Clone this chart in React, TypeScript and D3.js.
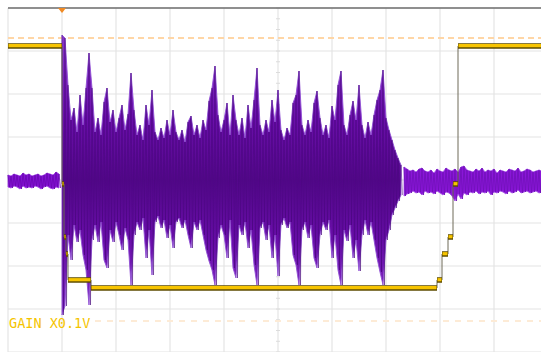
import React from "react";
import * as d3 from "d3";

// time base: trigger at t = 0, 54 units per division; voltage: 43 units per division
const STEP = 3;

// burst envelope (peak-detect pairs), one pair per sample starting at the trigger
const burstTop = [145, 142, 95, 60, 72, 48, 85, 55, 92, 127,
  92, 48, 62, 45, 78, 92, 58, 70, 48, 62,
  75, 50, 66, 107, 70, 45, 55, 40, 75, 55,
  90, 48, 40, 52, 42, 60, 45, 70, 48, 40,
  50, 38, 58, 64, 45, 55, 42, 60, 50, 79,
  92, 114, 65, 48, 60, 77, 45, 85, 60, 45,
  62, 42, 75, 52, 80, 112, 55, 45, 60, 48,
  80, 58, 90, 50, 40, 52, 45, 77, 85, 109,
  55, 45, 60, 48, 77, 89, 62, 45, 55, 42,
  74, 60, 95, 109, 55, 45, 65, 79, 60, 95,
  55, 42, 58, 45, 65, 80, 90, 110, 62, 50,
  40, 30, 22, 15];
const burstBot = [135, 126, 55, 80, 45, 62, 50, 75, 90, 125,
  60, 45, 62, 42, 80, 88, 50, 62, 42, 55,
  70, 48, 60, 105, 55, 42, 50, 38, 78, 50,
  95, 42, 36, 48, 40, 58, 45, 68, 42, 38,
  48, 40, 55, 68, 42, 50, 40, 55, 70, 81,
  90, 105, 58, 45, 55, 78, 40, 88, 98, 45,
  55, 42, 68, 50, 85, 105, 48, 42, 60, 45,
  78, 55, 96, 45, 38, 48, 42, 75, 85, 105,
  50, 42, 58, 45, 78, 88, 55, 42, 50, 40,
  78, 55, 90, 105, 50, 61, 45, 78, 60, 91,
  55, 40, 55, 42, 60, 78, 92, 105, 60, 50,
  35, 28, 21, 15];

// noise before the trigger and after the burst
const preTop = [6, 5, 7, 6, 5, 8, 6, 7, 5, 6, 7, 5, 6, 8, 7, 6, 9, 7];
const preBot = [6, 7, 5, 6, 8, 5, 7, 6, 7, 5, 6, 8, 6, 5, 7, 8, 6, 7];
const postTop = [14, 12, 10, 11, 9, 12, 13, 10, 9, 11, 8, 12, 10, 9, 13, 11, 10, 12, 9, 14,
  15, 11, 10, 9, 12, 10, 13, 9, 11, 10, 12, 8, 11, 10, 9, 12, 11, 10, 13, 9,
  10, 12, 11, 9, 10, 11, 10];
const postBot = [15, 13, 12, 10, 12, 11, 14, 10, 12, 11, 13, 10, 12, 14, 11, 12, 15, 20, 13, 18,
  12, 14, 11, 12, 10, 13, 11, 12, 10, 14, 11, 12, 10, 11, 13, 10, 12, 11, 9, 12,
  11, 10, 12, 11, 10, 12, 11];

// digital channel: step times and levels
const stepTimes = [-54, 0, 2, 4, 6, 29, 375, 380, 386, 391, 396, 486];
const stepLevels = [134, -4, -57, -74, -100, -108, -100, -74, -57, -4, 134, 134];

const W = 541;
const H = 352;

type Env = { t: number; hi: number; lo: number };

export default function App() {
  const x = d3.scaleLinear().domain([-54, 486]).range([8, 548]);
  const y = d3.scaleLinear().domain([-172, 172]).range([352, 8]);

  const env = (tops: number[], bots: number[], t0: number, off = 0): Env[] =>
    tops.map((tp, i) => ({ t: t0 + i * STEP, hi: tp + off, lo: -bots[i] + off }));

  const zig = (e: Env[]) => {
    const pts: [number, number][] = [];
    e.forEach(d => {
      pts.push([d.t, d.hi]);
      pts.push([d.t + STEP / 2, d.lo]);
    });
    return d3.line<[number, number]>().x(d => x(d[0])).y(d => y(d[1]))(pts) || "";
  };
  const area = d3.area<Env>().x(d => x(d.t)).y0(d => y(d.lo)).y1(d => y(d.hi));

  const pre = env(preTop, preBot, -54, -1);
  const post = env(postTop, postBot, 342, -1);
  const burst = env(burstTop, burstBot, 0);

  const vTicks = d3.range(-4, 5).map(v => v * 43);
  const hTicks = d3.range(-1, 10).map(v => v * 54);
  const minorY = d3.range(-16, 17).map(v => v * 43 / 4);
  const minorX = d3.range(-5, 46).map(v => v * 54 / 5);

  const steps = stepTimes.map((t, i) => [t, stepLevels[i]] as [number, number]);
  const stepPath = d3.line<[number, number]>().x(d => x(d[0])).y(d => y(d[1])).curve(d3.curveStepAfter)(steps) || "";
  const segs = steps.slice(0, -1).map((d, i) => ({ t0: d[0], t1: steps[i + 1][0], v: d[1] }));

  return (
    <svg width={W} height={H} style={{ position: "absolute", left: 0, top: 0 }}>
      <defs>
        <linearGradient id="burstFill" gradientUnits="userSpaceOnUse" x1={0} x2={0} y1={y(150)} y2={y(-150)}>
          <stop offset="0" stopColor="#8a36cc" />
          <stop offset="0.3" stopColor="#6a0eaa" />
          <stop offset="0.5" stopColor="#55088c" />
          <stop offset="0.7" stopColor="#6a0eaa" />
          <stop offset="1" stopColor="#8a36cc" />
        </linearGradient>
      </defs>
      <rect x={0} y={0} width={W} height={H} fill="#fff" />
      {/* grid */}
      {vTicks.map(v => (
        <line key={"h" + v} x1={8} x2={W} y1={y(v)} y2={y(v)} stroke="#e4e4e4" strokeWidth={1.2} />
      ))}
      {hTicks.map(t => (
        <line key={"v" + t} x1={x(t)} x2={x(t)} y1={8} y2={H} stroke="#e4e4e4" strokeWidth={1.2} />
      ))}
      {minorY.map(v => (
        <line key={"my" + v} x1={x(216) - 2} x2={x(216) + 2} y1={y(v)} y2={y(v)} stroke="#dcdcdc" strokeWidth={1} />
      ))}
      {minorX.map(t => (
        <line key={"mx" + t} x1={x(t)} x2={x(t)} y1={y(0) - 2} y2={y(0) + 2} stroke="#dcdcdc" strokeWidth={1} />
      ))}
      <line x1={8} x2={W} y1={8} y2={8} stroke="#6e6e6e" strokeWidth={1.5} />
      {/* reference levels */}
      <line x1={8} x2={W} y1={y(142)} y2={y(142)} stroke="#ffd6a6" strokeWidth={2} strokeDasharray="6 4" />
      <line x1={95} x2={W} y1={y(-141)} y2={y(-141)} stroke="#fdebd6" strokeWidth={2} strokeDasharray="6 6" />
      {/* analog channel */}
      <path d={area(pre) || ""} fill="#8512d4" stroke="#9a3ee0" strokeWidth={0.8} />
      <path d={zig(pre)} fill="none" stroke="#6a08b0" strokeWidth={0.8} />
      <path d={area(post) || ""} fill="#8a16d8" stroke="#a04ae2" strokeWidth={0.8} />
      <path d={zig(post)} fill="none" stroke="#7010b8" strokeWidth={0.8} />
      <path d={area(burst) || ""} fill="url(#burstFill)" stroke="#9050d4" strokeWidth={0.9} />
      <path d={zig(burst)} fill="none" stroke="#45067a" strokeWidth={0.7} opacity={0.7} />
      {/* digital channel */}
      <path d={stepPath} fill="none" stroke="#6e6a58" strokeWidth={1} />
      {segs.map((s, i) => (
        <line key={"so" + i} x1={x(s.t0)} x2={x(s.t1)} y1={y(s.v)} y2={y(s.v)} stroke="#5c4b00" strokeWidth={5.5} />
      ))}
      {segs.map((s, i) => (
        <line key={"sy" + i} x1={x(s.t0) + 0.5} x2={x(s.t1) - 0.5} y1={y(s.v) - 0.3} y2={y(s.v) - 0.3} stroke="#f7c400" strokeWidth={3.2} />
      ))}
      {/* trigger marker */}
      <path d={`M${x(0) - 4},${8} L${x(0) + 4},${8} L${x(0)},${13} Z`} fill="#f08a24" />
      <text x={9} y={328} fill="#f5c400" fontFamily="DejaVu Sans Mono" fontSize={13.5}>GAIN X0.1V</text>
    </svg>
  );
}
